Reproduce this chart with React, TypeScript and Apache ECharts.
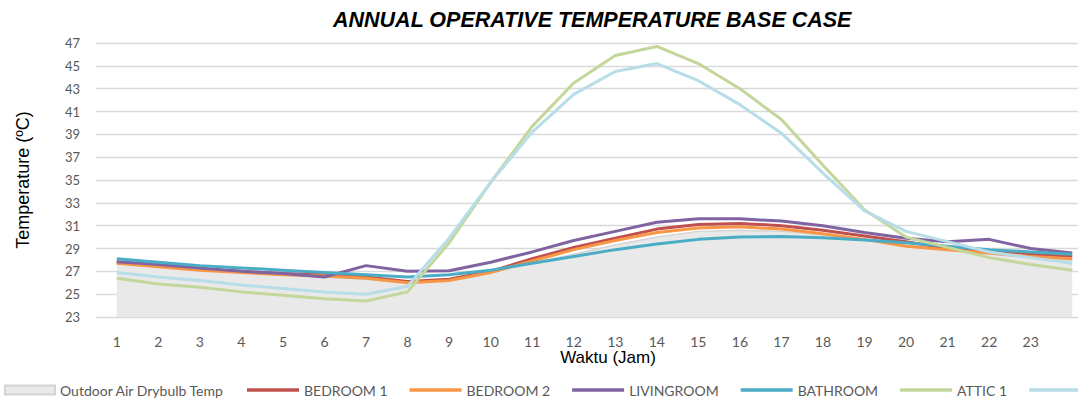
import React, { useEffect, useRef } from "react";
import * as echarts from "echarts";

const hours = ["1","2","3","4","5","6","7","8","9","10","11","12","13","14","15","16","17","18","19","20","21","22","23","24"];
const outdoor = [27.9, 27.6, 27.3, 27.0, 26.7, 26.5, 26.3, 26.0, 26.2, 26.9, 27.7, 28.5, 29.3, 30.0, 30.5, 30.6, 30.5, 30.2, 29.8, 29.3, 28.9, 28.5, 28.2, 28.0];
const bedroom1 = [27.8, 27.5, 27.2, 27.0, 26.8, 26.7, 26.5, 26.1, 26.3, 27.0, 28.1, 29.1, 29.9, 30.7, 31.1, 31.2, 31.0, 30.6, 30.1, 29.6, 29.0, 28.7, 28.5, 28.3];
const bedroom2 = [27.7, 27.4, 27.1, 26.9, 26.7, 26.6, 26.4, 26.0, 26.2, 26.9, 27.9, 28.9, 29.7, 30.4, 30.8, 30.9, 30.7, 30.3, 29.8, 29.2, 28.9, 28.6, 28.3, 28.1];
const livingroom = [27.85, 27.6, 27.3, 27.0, 26.8, 26.5, 27.5, 27.0, 27.05, 27.8, 28.7, 29.7, 30.5, 31.3, 31.6, 31.6, 31.4, 31.0, 30.4, 29.9, 29.6, 29.8, 29.0, 28.6];
const bathroom = [28.1, 27.8, 27.5, 27.3, 27.1, 26.9, 26.7, 26.5, 26.7, 27.1, 27.7, 28.3, 28.9, 29.4, 29.8, 30.0, 30.05, 29.95, 29.75, 29.5, 29.2, 28.9, 28.7, 28.5];
const attic1 = [26.4, 25.9, 25.6, 25.2, 24.9, 24.6, 24.4, 25.2, 29.5, 34.8, 39.7, 43.5, 45.9, 46.7, 45.2, 43.0, 40.3, 36.3, 32.4, 30.0, 29.1, 28.2, 27.6, 27.1];
const attic2 = [26.9, 26.5, 26.2, 25.8, 25.5, 25.2, 25.0, 25.7, 29.9, 34.8, 39.2, 42.5, 44.5, 45.2, 43.7, 41.6, 39.1, 35.6, 32.3, 30.5, 29.6, 28.7, 28.2, 27.7];

const roomNames = ["BEDROOM 1", "BEDROOM 2", "LIVINGROOM", "BATHROOM", "ATTIC 1", "ATTIC 2"];
const roomData = [bedroom1, bedroom2, livingroom, bathroom, attic1, attic2];
const roomColors = ["#c0504d", "#f79646", "#8064a2", "#4bacc6", "#c3d69b", "#b7dee8"];

export default function App() {
  const ref = useRef<HTMLDivElement>(null);
  useEffect(() => {
    if (!ref.current) return;
    const chart = echarts.init(ref.current, null, { renderer: "svg" });
    const tickFont = { fontFamily: "Lato", fontSize: 13, color: "#595959" };
    chart.setOption({
      animation: false,
      title: {
        text: "ANNUAL OPERATIVE TEMPERATURE BASE CASE",
        left: 328,
        top: 4,
        textStyle: { fontFamily: "Liberation Sans", fontSize: 21.5, fontWeight: "bold", fontStyle: "italic", color: "#000" },
      },
      grid: { left: 96, top: 43, width: 997, height: 274, containLabel: false },
      xAxis: {
        type: "category",
        data: hours,
        boundaryGap: true,
        axisLine: { show: false },
        axisTick: { show: false },
        axisLabel: { ...tickFont, fontSize: 14, margin: 17, interval: (i: number) => i < 23 },
        splitLine: { show: false },
      },
      yAxis: {
        type: "value",
        min: 23,
        max: 47,
        interval: 1,
        name: "Temperature (ºC)",
        nameLocation: "middle",
        nameRotate: 90,
        nameGap: 64,
        nameTextStyle: { fontFamily: "Liberation Sans", fontSize: 18, color: "#000" },
        axisLine: { show: false },
        axisTick: { show: false },
        axisLabel: { ...tickFont, margin: 16, formatter: (v: number) => (Math.round(v) % 2 === 1 ? String(v) : "") },
        splitLine: { show: true, lineStyle: { color: ["#d9d9d9", "rgba(0,0,0,0)"], width: 1.3 } },
      },
      legend: [
        {
          data: ["Outdoor Air Drybulb Temp"],
          left: -1,
          top: 378,
          icon: "rect",
          itemWidth: 50,
          itemHeight: 9,
          itemGap: 22,
          textStyle: { fontFamily: "Lato", fontSize: 14, color: "#595959" },
        },
        {
          data: roomNames,
          left: 242,
          top: 378,
          width: 2000,
          icon: "rect",
          itemWidth: 52,
          itemHeight: 3.5,
          itemGap: 22,
          textStyle: { fontFamily: "Lato", fontSize: 14, color: "#595959" },
        },
      ],
      graphic: [
        {
          type: "text",
          x: 608,
          y: 357,
          style: { text: "Waktu (Jam)", fontFamily: "Liberation Sans", fontSize: 17, fill: "#000", textAlign: "center", textVerticalAlign: "middle" },
        },
      ],
      series: [
        {
          name: "Outdoor Air Drybulb Temp",
          type: "line",
          data: outdoor,
          symbol: "none",
          lineStyle: { color: "#d4d4d4", width: 1.5 },
          itemStyle: { color: "#e9e9e9", borderColor: "#d4d4d4", borderWidth: 1 },
          areaStyle: { color: "#e9e9e9", opacity: 1, origin: "start" },
        },
        ...roomNames.map((n, i) => ({
          name: n,
          type: "line",
          data: roomData[i],
          symbol: "none",
          lineStyle: { color: roomColors[i], width: 3 },
          itemStyle: { color: roomColors[i] },
        })),
      ],
    });
    return () => chart.dispose();
  }, []);
  return (
    <div style={{ width: 1078, height: 401, position: "absolute", left: 0, top: 0, overflow: "hidden" }}>
      <div ref={ref} style={{ width: 1110, height: 401 }} />
    </div>
  );
}
